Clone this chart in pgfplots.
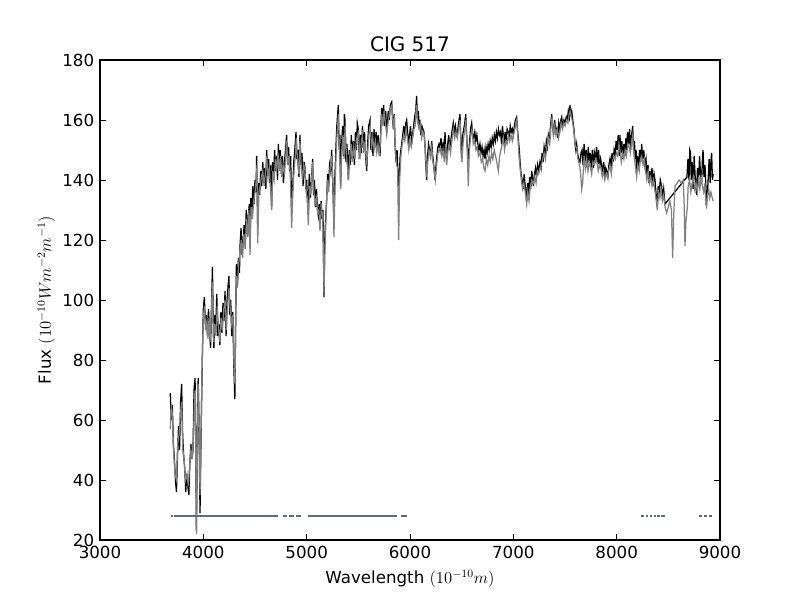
\documentclass[border=0pt]{standalone}
\usepackage{pgfplots}
\pgfplotsset{compat=1.18}
\usepackage{fontspec}
\setmainfont{DejaVu Sans}
\definecolor{maskc}{RGB}{95,110,122}
\definecolor{modelc}{RGB}{128,128,128}
\begin{document}
\begin{tikzpicture}
\useasboundingbox (-72pt,-43.2pt) rectangle (504pt,388.8pt);
\begin{axis}[
 at={(0pt,0pt)}, anchor=south west, scale only axis,
 width=446.4pt, height=345.6pt,
 xmin=3000, xmax=9000, ymin=20, ymax=180,
 xtick={3000,4000,...,9000}, ytick={20,40,...,180},
 tick align=inside, major tick length=4pt,
 every tick/.style={black, line width=0.5pt},
 axis line style={line width=1pt},
 /pgf/number format/1000 sep={}, /pgf/number format/assume math mode=true,
 tick label style={font=\fontsize{12}{14}\selectfont},
 xticklabel style={anchor=north, inner sep=0pt, yshift=-4pt},
 yticklabel style={anchor=east, inner sep=0pt, xshift=-4pt},
 title={CIG 517},
 title style={at={(axis description cs:0.5,1.01736)}, anchor=base, yshift=-5.8pt, font=\fontsize{14.4}{17}\selectfont, inner sep=0pt},
 xlabel={Wavelength $(10^{-10}m)$},
 xlabel style={at={(axis description cs:0.5,-0.0897)}, anchor=base, font=\fontsize{12}{14}\selectfont, inner sep=0pt},
 ylabel={Flux $(10^{-10}Wm^{-2}m^{-1})$},
 ylabel style={at={(axis description cs:-0.0791,0.5)}, anchor=base, font=\fontsize{12}{14}\selectfont, inner sep=0pt},
 unbounded coords=jump,
]
% mask line
\addplot[maskc, line width=1.3pt] coordinates {
(3687,28) (3705,28) (nan,nan) (3712,28) (4724,28) (nan,nan)
(4773,28) (4810,28) (nan,nan) (4830,28) (4880,28) (nan,nan) (4897,28) (4947,28) (nan,nan)
(5013,28) (5872,28) (nan,nan) (5909,28) (5973,28) (nan,nan)
(8231,28) (8260,28) (nan,nan) (8280,28) (8305,28) (nan,nan) (8325,28) (8345,28) (nan,nan)
(8360,28) (8380,28) (nan,nan) (8390,28) (8420,28) (nan,nan) (8432,28) (8464,28) (nan,nan)
(8798,28) (8830,28) (nan,nan) (8850,28) (8870,28) (nan,nan) (8890,28) (8920,28)
};
% observed spectrum
\addplot[black, line width=0.9pt] coordinates {
(3680,69) (3690,60) (3700,65) (3710,52) (3720,47) (3730,40) (3740,36) (3750,48) (3760,58) (3770,50)
(3780,66) (3790,72) (3800,55) (3810,48) (3820,44) (3830,36) (3840,42) (3850,38) (3860,35) (3870,46)
(3880,52) (3890,47) (3900,50) (3910,70) (3920,74) (3925,60) (3933,23) (3940,45) (3950,74) (3958,60)
(3968,29) (3978,55) (3990,80) (4000,97) (4010,101) (4020,92) (4030,95) (4040,88) (4050,97) (4060,90)
(4070,84) (4080,100) (4088,111) (4095,96) (4102,84) (4110,95) (4120,90) (4130,102) (4140,88) (4150,92)
(4160,85) (4170,96) (4180,89) (4190,99) (4200,93) (4210,103) (4220,88) (4230,100) (4240,105) (4248,108)
(4255,95) (4265,100) (4275,88) (4285,96) (4295,78) (4305,67) (4312,90) (4320,112) (4330,105) (4340,114)
(4350,109) (4355,118) (4365,124) (4375,115) (4385,120) (4395,125) (4405,118) (4415,130) (4425,122) (4435,128)
(4445,132) (4452,120) (4460,134) (4470,129) (4480,138) (4490,132) (4500,140) (4510,136) (4516,148) (4526,124)
(4535,139) (4545,135) (4555,143) (4565,138) (4575,146) (4585,140) (4595,144) (4605,137) (4613,150) (4622,143)
(4632,147) (4642,139) (4652,145) (4661,131) (4670,146) (4680,141) (4690,150) (4700,143) (4710,148) (4718,140)
(4726,152) (4735,145) (4745,150) (4755,142) (4765,148) (4775,139) (4785,146) (4795,150) (4806,155) (4815,146)
(4825,151) (4835,143) (4845,148) (4855,130) (4865,137) (4875,146) (4885,150) (4897,156) (4905,147) (4915,150)
(4925,141) (4935,155) (4945,145) (4955,149) (4965,138) (4975,146) (4984,144) (4992,137) (5000,140) (5008,133)
(5016,129) (5025,142) (5035,134) (5045,139) (5058,147) (5066,135) (5075,140) (5085,131) (5095,137) (5105,130)
(5113,128) (5121,132) (5129,124) (5140,133) (5150,127) (5158,130) (5168,101) (5175,120) (5185,128) (5193,133)
(5203,142) (5213,138) (5222,145) (5232,143) (5242,150) (5252,140) (5264,126) (5272,140) (5282,150) (5292,158)
(5300,162) (5306,165) (5315,150) (5322,155) (5329,138) (5338,152) (5348,158) (5357,148) (5365,162) (5371,160)
(5380,146) (5390,152) (5403,140) (5412,150) (5422,145) (5432,155) (5442,147) (5452,153) (5462,145) (5472,156)
(5482,150) (5490,159) (5500,157) (5510,147) (5520,155) (5530,149) (5540,158) (5550,151) (5560,156) (5570,148)
(5581,143) (5590,152) (5600,158) (5613,160) (5622,150) (5632,156) (5642,148) (5652,157) (5662,151) (5672,156)
(5682,150) (5692,155) (5700,151) (5710,148) (5718,158) (5726,164) (5735,160) (5745,165) (5755,158) (5765,163)
(5775,156) (5790,163) (5800,160) (5810,165) (5823,166) (5832,160) (5840,157) (5848,162) (5855,152) (5865,146)
(5875,150) (5883,143) (5890,138) (5897,142) (5905,148) (5912,150) (5919,152) (5930,155) (5940,158) (5950,154)
(5960,159) (5968,160) (5976,156) (5985,152) (5995,155) (6005,158) (6016,152) (6025,155) (6035,158) (6045,161)
(6055,163) (6064,168) (6072,160) (6080,163) (6090,158) (6097,160) (6105,155) (6115,158) (6125,157) (6135,156)
(6145,152) (6153,145) (6161,140) (6170,148) (6180,152) (6190,150) (6200,148) (6210,153) (6220,148) (6230,145)
(6242,140) (6250,144) (6260,148) (6270,151) (6280,152) (6290,150) (6300,154) (6310,150) (6320,152) (6330,148)
(6339,156) (6346,150) (6355,147) (6365,152) (6375,155) (6385,150) (6395,153) (6405,156) (6419,159) (6430,156)
(6440,158) (6450,155) (6460,156) (6470,159) (6484,162) (6492,153) (6500,147) (6510,155) (6520,157) (6530,159)
(6539,162) (6548,155) (6556,150) (6564,147) (6575,152) (6586,157) (6597,159) (6607,155) (6617,154) (6627,156)
(6637,153) (6647,155) (6657,152) (6667,150) (6677,152) (6687,149) (6697,151) (6707,148) (6717,150) (6726,147)
(6736,151) (6746,149) (6756,152) (6766,150) (6776,153) (6786,151) (6796,154) (6806,152) (6816,155) (6826,153)
(6836,156) (6846,154) (6856,157) (6866,155) (6876,156) (6886,152) (6895,158) (6903,155) (6911,152) (6920,156)
(6930,153) (6940,157) (6951,156) (6960,154) (6970,158) (6980,156) (6990,157) (7000,155) (7010,158) (7020,160)
(7032,161) (7040,157) (7050,153) (7058,150) (7065,146) (7075,142) (7085,140) (7095,137) (7105,142) (7115,138)
(7125,135) (7129,133) (7138,139) (7148,135) (7158,141) (7168,137) (7178,143) (7188,140) (7194,138) (7205,142)
(7215,144) (7225,141) (7235,145) (7245,143) (7258,146) (7268,144) (7278,149) (7288,146) (7298,151) (7310,148)
(7320,153) (7330,151) (7339,155) (7350,153) (7360,158) (7371,162) (7380,158) (7390,155) (7400,160) (7410,156)
(7419,157) (7430,154) (7440,159) (7450,157) (7460,160) (7468,161) (7478,158) (7490,160) (7500,159) (7512,161)
(7522,160) (7532,163) (7542,161) (7548,165) (7556,162) (7565,163) (7575,160) (7587,157) (7595,153) (7605,150)
(7613,152) (7622,149) (7632,147) (7645,146) (7655,149) (7665,150) (7675,145) (7685,152) (7695,145) (7705,150)
(7715,144) (7725,151) (7735,146) (7745,149) (7755,143) (7765,150) (7775,144) (7785,149) (7795,147) (7806,151)
(7815,145) (7825,150) (7835,144) (7845,147) (7855,145) (7865,142) (7875,146) (7885,141) (7895,144) (7905,143)
(7915,141) (7925,145) (7935,147) (7945,144) (7955,149) (7965,146) (7975,150) (7984,148) (7995,153) (8005,150)
(8015,155) (8025,148) (8032,155) (8040,149) (8050,153) (8060,147) (8070,152) (8080,148) (8090,154) (8097,150)
(8105,156) (8115,152) (8125,157) (8135,150) (8145,155) (8155,158) (8163,150) (8172,153) (8180,147) (8188,150)
(8193,143) (8202,148) (8212,144) (8222,150) (8232,146) (8242,152) (8252,147) (8262,150) (8274,145) (8284,147)
(8294,141) (8304,145) (8314,139) (8322,143) (8332,140) (8342,144) (8352,138) (8362,142) (8371,140) (8380,136)
(8393,131) (8402,138) (8412,135) (8422,140) (8435,138) (8445,134) (8455,137) (8468,132)
(8680,141) (8690,147) (8700,140) (8708,150) (8715,149) (8722,140) (8730,146) (8740,137) (8750,148) (8760,141)
(8773,135) (8782,144) (8792,138) (8802,148) (8812,142) (8822,139) (8830,147) (8836,150) (8845,141) (8855,145)
(8865,137) (8875,133) (8885,140) (8895,147) (8905,139) (8912,146) (8919,149) (8927,140) (8934,142)
};
% model spectrum
\addplot[modelc, line width=0.9pt] coordinates {
(3680,57) (3690,65) (3700,62) (3712,50) (3725,42) (3740,40) (3752,52) (3765,55) (3778,62) (3790,66)
(3802,50) (3815,46) (3828,40) (3842,42) (3855,38) (3868,45) (3880,50) (3892,47) (3905,55) (3915,68)
(3922,70) (3933,22) (3942,50) (3950,72) (3960,58) (3968,35) (3980,60) (3992,85) (4002,95) (4012,98)
(4022,90) (4035,93) (4045,87) (4055,94) (4065,86) (4078,96) (4088,106) (4098,86) (4110,92) (4122,88)
(4135,98) (4148,90) (4160,86) (4172,94) (4185,90) (4198,97) (4210,100) (4222,90) (4235,98) (4248,104)
(4260,97) (4272,92) (4285,95) (4296,80) (4306,72) (4318,108) (4330,104) (4342,112) (4355,116) (4368,120)
(4380,114) (4392,122) (4405,117) (4418,127) (4430,121) (4442,130) (4452,115) (4462,131) (4475,127) (4488,133)
(4500,136) (4512,140) (4520,145) (4526,119) (4538,136) (4550,138) (4562,141) (4575,143) (4588,138) (4600,142)
(4613,148) (4625,141) (4638,144) (4650,137) (4661,130) (4672,143) (4685,140) (4698,147) (4710,143) (4722,149)
(4735,143) (4748,148) (4760,141) (4772,145) (4785,142) (4798,148) (4806,153) (4818,145) (4830,148) (4842,141)
(4855,124) (4866,136) (4878,143) (4890,148) (4900,154) (4912,146) (4925,142) (4935,153) (4948,144) (4960,140)
(4972,145) (4984,143) (4995,136) (5005,134) (5016,125) (5028,138) (5040,135) (5058,146) (5070,136) (5082,132)
(5095,134) (5106,129) (5118,130) (5129,123) (5142,131) (5155,128) (5168,103) (5178,118) (5190,130) (5200,140)
(5212,136) (5225,143) (5242,148) (5255,138) (5264,121) (5275,138) (5288,152) (5300,158) (5308,162) (5318,148)
(5329,137) (5340,150) (5352,155) (5362,147) (5372,158) (5385,148) (5395,144) (5405,140) (5418,148) (5430,152)
(5442,146) (5455,151) (5468,147) (5480,153) (5492,155) (5502,156) (5515,147) (5528,152) (5540,155) (5552,149)
(5565,153) (5578,146) (5590,149) (5602,155) (5615,158) (5628,151) (5640,154) (5652,150) (5665,153) (5678,149)
(5690,152) (5702,148) (5715,153) (5726,162) (5738,158) (5750,163) (5762,159) (5775,155) (5790,160) (5802,162)
(5812,164) (5825,165) (5838,158) (5848,160) (5858,150) (5870,145) (5880,144) (5890,120) (5900,140) (5912,148)
(5925,152) (5938,155) (5950,153) (5962,157) (5975,154) (5988,150) (6000,153) (6012,151) (6025,154) (6038,157)
(6050,158) (6062,165) (6075,159) (6088,157) (6100,159) (6112,154) (6125,156) (6138,155) (6150,149) (6161,141)
(6172,146) (6185,150) (6198,148) (6210,151) (6222,146) (6235,143) (6245,140) (6258,145) (6270,149) (6282,150)
(6295,151) (6308,148) (6320,150) (6332,146) (6345,152) (6355,145) (6368,150) (6380,152) (6392,149) (6405,153)
(6419,157) (6432,154) (6445,156) (6458,154) (6470,157) (6484,160) (6494,150) (6502,146) (6515,153) (6528,156)
(6540,160) (6552,152) (6564,138) (6575,150) (6588,155) (6600,157) (6612,152) (6625,153) (6638,150) (6650,151)
(6662,148) (6677,149) (6690,146) (6702,147) (6715,144) (6726,143) (6740,147) (6752,145) (6765,148) (6778,146)
(6790,149) (6802,147) (6815,150) (6828,148) (6840,146) (6855,143) (6868,148) (6880,150) (6892,152) (6903,154)
(6915,150) (6928,153) (6940,152) (6951,155) (6965,153) (6978,155) (6990,153) (7002,155) (7015,157) (7025,159)
(7032,160) (7045,154) (7055,148) (7065,144) (7078,140) (7090,137) (7102,139) (7115,136) (7129,132) (7140,136)
(7152,133) (7165,138) (7178,140) (7194,139) (7208,141) (7220,139) (7232,143) (7245,142) (7258,144) (7272,145)
(7285,147) (7298,149) (7310,147) (7325,151) (7339,154) (7352,152) (7365,158) (7375,161) (7388,155) (7400,158)
(7412,155) (7425,157) (7438,154) (7450,156) (7462,159) (7475,157) (7488,159) (7500,158) (7515,160) (7528,159)
(7540,162) (7550,163) (7562,161) (7575,159) (7587,156) (7600,151) (7613,151) (7625,147) (7640,145) (7652,142)
(7661,137) (7671,139) (7685,148) (7698,144) (7710,147) (7722,143) (7735,146) (7748,144) (7758,142) (7770,146)
(7785,145) (7798,147) (7810,146) (7822,143) (7835,145) (7848,144) (7860,141) (7872,143) (7885,140) (7898,142)
(7910,141) (7922,143) (7935,145) (7948,142) (7960,146) (7972,148) (7984,147) (7998,149) (8010,148) (8022,152)
(8032,150) (8045,146) (8058,149) (8070,147) (8082,150) (8095,148) (8108,152) (8120,151) (8132,149) (8145,153)
(8155,155) (8168,148) (8180,145) (8193,141) (8205,145) (8218,143) (8230,147) (8242,148) (8255,145) (8268,147)
(8280,143) (8292,140) (8305,143) (8318,139) (8330,141) (8342,138) (8355,140) (8368,137) (8380,134) (8393,130)
(8405,136) (8418,134) (8430,137) (8442,133) (8455,135) (8468,131) (8484,129) (8500,131) (8515,133) (8530,130)
(8542,114) (8552,128) (8565,138) (8585,139) (8605,140) (8625,139) (8645,140) (8653,132) (8661,118) (8670,126)
(8684,131) (8692,138) (8705,140) (8718,136) (8730,139) (8742,141) (8755,137) (8768,139) (8780,136) (8792,140)
(8805,137) (8818,141) (8830,138) (8842,136) (8855,139) (8862,132) (8871,131) (8880,135) (8890,137) (8900,134)
(8912,136) (8925,134) (8934,133)
};
\end{axis}
\end{tikzpicture}
\end{document}
